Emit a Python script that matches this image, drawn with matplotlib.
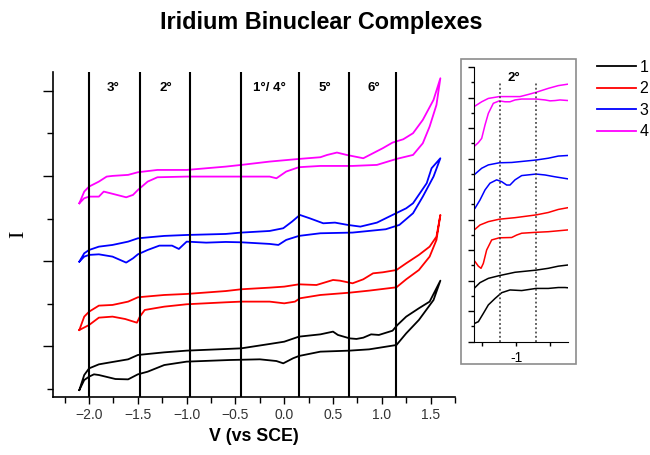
import matplotlib
matplotlib.use("Agg")
import matplotlib.pyplot as plt
from matplotlib.patches import Rectangle
import numpy as np

plt.rcParams['font.family'] = ['Liberation Sans', 'DejaVu Sans']

# ---------------- main CV data (V vs SCE, arbitrary current) ----------------
v1_fwd = [-2.10, -2.05, -2.00, -1.90, -1.80, -1.60, -1.50, -1.23, -1.00, -0.60, -0.44, -0.15, 0.00, 0.15,
          0.37, 0.50, 0.55, 0.67, 0.74, 0.81, 0.89, 0.97, 1.11, 1.16, 1.25, 1.38, 1.49, 1.60]
i1_fwd = [4.89, 6.65, 7.43, 7.90, 8.10, 8.49, 9.00, 9.31, 9.51, 9.70, 9.78, 10.29, 10.56, 11.15,
          11.42, 11.74, 11.35, 10.95, 10.88, 11.03, 11.42, 11.35, 11.85, 12.52, 13.50, 14.48, 15.26, 17.72]
v1_rev = [1.60, 1.53, 1.38, 1.25, 1.15, 0.87, 0.67, 0.37, 0.15, 0.09, -0.01, -0.08, -0.25, -0.56, -1.00,
          -1.23, -1.40, -1.50, -1.60, -1.73, -1.90, -1.95, -2.00, -2.05, -2.10]
i1_rev = [17.72, 15.45, 13.11, 11.54, 10.17, 9.66, 9.51, 9.39, 8.88, 8.61, 8.02, 8.29, 8.49, 8.41, 8.22,
          7.82, 7.04, 6.73, 6.14, 6.18, 6.65, 6.73, 6.46, 6.06, 4.89]

v2_fwd = [-2.10, -2.05, -2.00, -1.90, -1.76, -1.60, -1.50, -1.23, -1.00, -0.60, -0.44, -0.15, 0.00, 0.15,
          0.33, 0.50, 0.57, 0.70, 0.81, 0.91, 1.01, 1.15, 1.25, 1.38, 1.49, 1.56, 1.60]
i2_fwd = [11.93, 13.50, 14.08, 14.79, 14.87, 15.26, 15.77, 16.04, 16.16, 16.50, 16.71, 16.90, 17.02, 17.29,
          17.21, 17.80, 17.72, 17.41, 17.88, 18.58, 18.70, 18.97, 19.76, 20.74, 21.71, 22.89, 25.43]
v2_rev = [1.60, 1.56, 1.49, 1.38, 1.25, 1.15, 0.87, 0.67, 0.37, 0.16, 0.11, 0.00, -0.15, -0.44, -0.60,
          -1.00, -1.23, -1.43, -1.48, -1.51, -1.63, -1.76, -1.90, -2.00, -2.10]
i2_rev = [25.43, 22.50, 20.54, 18.97, 17.88, 16.94, 16.55, 16.31, 16.04, 15.65, 15.26, 15.06, 15.26, 15.26,
          15.18, 14.95, 14.67, 14.28, 13.50, 12.79, 13.22, 13.50, 13.38, 12.52, 11.93]

v3_fwd = [-2.10, -2.05, -2.00, -1.90, -1.76, -1.60, -1.50, -1.23, -1.00, -0.60, -0.44, -0.15, -0.01, 0.08,
          0.16, 0.26, 0.40, 0.52, 0.65, 0.78, 0.95, 1.11, 1.25, 1.32, 1.46, 1.51, 1.60]
i3_fwd = [19.95, 20.93, 21.32, 21.71, 21.91, 22.30, 22.69, 22.97, 23.08, 23.20, 23.36, 23.55, 23.87, 24.65,
          25.43, 25.04, 24.45, 24.53, 24.26, 24.06, 24.53, 25.43, 26.21, 26.80, 29.15, 30.91, 32.08]
v3_rev = [1.60, 1.53, 1.42, 1.32, 1.18, 1.04, 0.70, 0.37, 0.15, 0.02, -0.06, -0.15, -0.44, -0.60, -0.80,
          -1.00, -1.08, -1.15, -1.28, -1.40, -1.50, -1.55, -1.62, -1.76, -1.90, -2.00, -2.05, -2.10]
i3_rev = [32.08, 29.93, 27.58, 25.63, 24.26, 23.75, 23.36, 23.28, 22.97, 22.50, 21.91, 22.03, 22.22, 22.26,
          22.18, 22.30, 21.44, 21.83, 21.83, 21.32, 20.81, 20.34, 19.84, 20.54, 20.81, 20.74, 20.54, 19.95]

v4_fwd = [-2.10, -2.05, -2.00, -1.90, -1.82, -1.76, -1.60, -1.50, -1.30, -1.00, -0.60, -0.44, -0.15, 0.15,
          0.37, 0.44, 0.54, 0.64, 0.81, 0.91, 1.01, 1.11, 1.22, 1.32, 1.42, 1.53, 1.60]
i4_fwd = [26.80, 28.17, 28.76, 29.34, 29.93, 30.01, 30.13, 30.44, 30.71, 30.71, 31.10, 31.30, 31.69, 32.00,
          32.20, 32.47, 32.75, 32.47, 32.08, 32.67, 33.26, 33.92, 34.31, 35.02, 36.58, 38.93, 41.47]
v4_rev = [1.60, 1.56, 1.49, 1.42, 1.32, 1.15, 0.95, 0.70, 0.37, 0.15, 0.02, -0.08, -0.15, -0.44, -0.60,
          -1.00, -1.30, -1.40, -1.50, -1.55, -1.62, -1.78, -1.85, -1.90, -2.00, -2.05, -2.10]
i4_rev = [41.47, 38.34, 35.80, 33.84, 32.47, 32.00, 31.30, 31.18, 31.18, 31.03, 30.52, 29.73, 29.93, 29.93,
          29.93, 29.93, 29.85, 29.34, 28.36, 27.78, 27.50, 27.97, 28.17, 27.58, 27.58, 27.39, 26.80]

# region boundaries and labels
boundaries = [-2.00, -1.48, -0.97, -0.44, 0.15, 0.66, 1.15]
region_labels = ["3°", "2°", "1°/ 4°", "5°", "6°"]
region_label_x = [-1.755, -1.21, -0.155, 0.415, 0.917]

# ---------------- inset data ----------------
a1u_v = [-1.607, -1.534, -1.411, -1.250, -1.019, -0.710, -0.529, -0.382, -0.235]
a1u_i = [1.77, 1.93, 2.07, 2.16, 2.27, 2.34, 2.40, 2.47, 2.51]
a1l_v = [-1.607, -1.558, -1.485, -1.411, -1.313, -1.215, -1.093, -0.921, -0.710, -0.529, -0.382, -0.284, -0.235]
a1l_i = [0.60, 0.65, 0.92, 1.20, 1.41, 1.60, 1.69, 1.67, 1.74, 1.74, 1.77, 1.77, 1.76]
a2u_v = [-1.607, -1.534, -1.411, -1.250, -1.019, -0.710, -0.529, -0.382, -0.235]
a2u_i = [3.68, 3.82, 3.93, 4.01, 4.06, 4.15, 4.23, 4.33, 4.39]
a2l_v = [-1.607, -1.558, -1.519, -1.485, -1.436, -1.362, -1.250, -1.068, -0.995, -0.921, -0.710, -0.529, -0.382, -0.235]
a2l_i = [2.62, 2.47, 2.40, 2.56, 3.00, 3.33, 3.40, 3.41, 3.49, 3.55, 3.58, 3.60, 3.63, 3.66]
a3u_v = [-1.607, -1.509, -1.411, -1.250, -1.068, -0.710, -0.529, -0.382, -0.235]
a3u_i = [5.49, 5.68, 5.79, 5.86, 5.87, 5.95, 6.01, 6.08, 6.10]
a3l_v = [-1.607, -1.534, -1.460, -1.387, -1.289, -1.215, -1.142, -1.093, -1.019, -0.921, -0.710, -0.578, -0.431, -0.235]
a3l_i = [4.37, 4.64, 4.97, 5.19, 5.30, 5.24, 5.13, 5.13, 5.30, 5.44, 5.49, 5.46, 5.40, 5.33]
a4u_v = [-1.607, -1.509, -1.411, -1.250, -1.117, -0.946, -0.823, -0.710, -0.529, -0.382, -0.235]
a4u_i = [7.72, 7.86, 7.97, 8.03, 8.03, 8.03, 8.10, 8.17, 8.30, 8.39, 8.44]
a4l_v = [-1.607, -1.558, -1.509, -1.460, -1.411, -1.338, -1.250, -1.166, -1.093, -1.019, -0.921, -0.710,
         -0.578, -0.504, -0.431, -0.357, -0.235]
a4l_i = [6.42, 6.52, 6.66, 7.10, 7.48, 7.81, 7.89, 7.86, 7.86, 7.92, 7.95, 7.95, 7.92, 7.89, 7.90, 7.92, 7.90]
inset_dotted = [-1.247, -0.709]

series_names = ["1", "2", "3", "4"]
colors = ["#000000", "#ff0000", "#0000ff", "#ff00ff"]

main_curves = [(v1_fwd + v1_rev, i1_fwd + i1_rev), (v2_fwd + v2_rev, i2_fwd + i2_rev),
               (v3_fwd + v3_rev, i3_fwd + i3_rev), (v4_fwd + v4_rev, i4_fwd + i4_rev)]
inset_curves = [[(a1u_v, a1u_i), (a1l_v, a1l_i)], [(a2u_v, a2u_i), (a2l_v, a2l_i)],
                [(a3u_v, a3u_i), (a3l_v, a3l_i)], [(a4u_v, a4u_i), (a4l_v, a4l_i)]]

# ---------------- figure ----------------
fig = plt.figure(figsize=(6.5, 4.55), dpi=100)
ax = fig.add_axes([53/650, 1-397/455, 402/650, 325/455])

handles = []
for (v, i), c, n in zip(main_curves, colors, series_names):
    h, = ax.plot(v, i, color=c, lw=1.3, label=n, solid_joinstyle='round')
    handles.append(h)
for b in boundaries:
    ax.axvline(b, color='black', lw=1.5)
for x, t in zip(region_label_x, region_labels):
    ax.text(x, 40.3, t, ha='center', va='center', fontsize=9.5, fontweight='bold')

ax.set_xlim(-2.37, 1.75)
ax.set_ylim(4.07, 42.2)
ax.set_xticks([-2.0, -1.5, -1.0, -0.5, 0.0, 0.5, 1.0, 1.5])
ax.set_xticks(np.arange(-2.25, 1.76, 0.5), minor=True)
ax.set_yticks([10, 20, 30, 40])
ax.set_yticks([5, 15, 25, 35], minor=True)
ax.set_yticklabels([])
ax.tick_params(axis='x', which='major', direction='out', length=5, width=1, labelsize=10,
               labelcolor='#333333', pad=3)
ax.tick_params(axis='x', which='minor', direction='out', length=4, width=1)
ax.tick_params(axis='y', which='major', direction='out', length=7, width=1)
ax.tick_params(axis='y', which='minor', direction='out', length=4, width=1)
for s in ['top', 'right']:
    ax.spines[s].set_visible(False)
for s in ['left', 'bottom']:
    ax.spines[s].set_linewidth(1.2)
ax.set_xlabel("V (vs SCE)", fontsize=12.8, fontweight='bold', labelpad=4)
ax.set_ylabel("I", fontsize=16, family=['Liberation Serif', 'DejaVu Serif'], labelpad=7)

fig.text(321.7/650, 1-22/455, "Iridium Binuclear Complexes", ha='center', va='center',
         fontsize=16.8, fontweight='bold')

# inset frame
fig.patches.append(Rectangle((460.7/650, 1-364/455), 115/650, 305/455, transform=fig.transFigure,
                             fill=False, edgecolor='#8c8c8c', lw=1.2))
axi = fig.add_axes([474/650, 1-341.5/455, 94/650, 274.8/455])
for segs, c in zip(inset_curves, colors):
    for v, i in segs:
        axi.plot(v, i, color=c, lw=1.1, solid_joinstyle='round')
for d in inset_dotted:
    axi.plot([d, d], [0, 8.5], color='#333333', lw=1.1, ls=(0, (1.2, 1.6)))
axi.text(-1.04, 8.65, "2°", ha='center', va='center', fontsize=9.5, fontweight='bold')
axi.set_xlim(-1.622, -0.24)
axi.set_ylim(0, 9.01)
axi.set_xticks([-1.5, -1.0, -0.5])
axi.set_xticklabels(["", "-1", ""])
axi.set_yticks(np.arange(0, 9.5, 1.0))
axi.set_yticks(np.arange(0.5, 9.0, 1.0), minor=True)
axi.set_yticklabels([])
axi.tick_params(axis='x', direction='out', length=3, width=1, labelsize=10, pad=4)
axi.tick_params(axis='y', which='major', direction='out', length=4, width=1)
axi.tick_params(axis='y', which='minor', direction='out', length=2.5, width=1)
for s in ['top', 'right']:
    axi.spines[s].set_visible(False)

fig.legend(handles=handles, labels=series_names, loc='upper left',
           bbox_to_anchor=(597/650, 1-60/455), frameon=False, fontsize=11.5,
           handlelength=2.45, handletextpad=0.2, labelspacing=0.4, borderpad=0, borderaxespad=0)

fig.savefig("out.png", dpi=100)
